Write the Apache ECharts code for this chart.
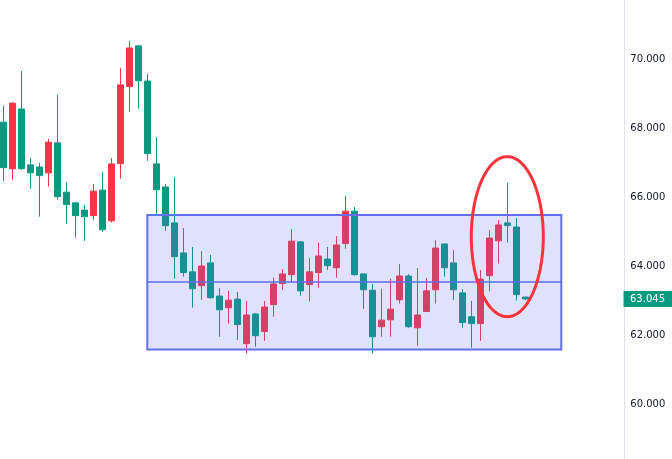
<!DOCTYPE html>
<html>
<head>
<meta charset="utf-8">
<style>
  html, body { margin: 0; padding: 0; background: #ffffff; }
  #chart { width: 672px; height: 459px; }
</style>
<script src="https://cdn.jsdelivr.net/npm/echarts@6.0.0/dist/echarts.min.js"></script>
</head>
<body>
<div id="chart"></div>
<script>
// ---- data ----
const opens  = [68.17,66.82,68.55,66.93,66.87,66.70,67.57,66.14,65.83,65.62,
                65.46,66.20,65.31,66.97,69.20,70.38,69.36,66.96,66.29,65.25,
                64.38,63.83,63.43,64.09,63.13,62.79,63.04,61.75,62.61,62.10,
                62.88,63.49,63.75,64.70,63.46,63.81,64.20,63.95,64.65,65.59,
                63.77,63.30,62.24,62.44,63.02,63.71,62.21,62.68,63.31,64.64,
                64.09,63.22,62.53,62.33,63.72,64.73,65.25,65.13,63.10];
const closes = [66.85,68.72,66.82,66.70,66.62,67.59,66.01,65.78,65.46,65.43,
                66.17,65.05,66.96,69.25,70.32,69.37,67.26,66.21,65.17,64.27,
                63.81,63.34,64.00,63.08,62.73,63.01,62.30,62.58,61.98,62.81,
                63.48,63.77,64.72,63.28,63.83,64.29,64.01,64.61,65.59,63.75,
                63.31,61.95,62.43,62.75,63.71,62.24,62.58,63.28,64.52,63.95,
                63.31,62.36,62.33,63.62,64.81,65.19,65.17,63.17,63.045];
const lows   = [66.46,66.50,66.79,66.24,65.43,66.30,65.92,65.23,64.82,64.73,
                65.34,64.99,65.26,66.53,68.47,68.56,67.05,65.51,65.02,63.63,
                63.69,62.79,63.02,63.05,61.95,62.33,61.86,61.46,61.66,61.83,
                62.53,63.31,63.53,63.14,62.97,63.37,63.89,63.66,64.50,63.72,
                62.76,61.46,61.95,61.95,62.91,62.21,61.69,62.68,62.91,63.69,
                63.02,62.21,61.63,61.83,63.26,64.07,64.68,63.00,63.01];
const highs  = [68.64,68.75,69.65,67.13,66.99,67.68,68.96,66.43,65.85,65.77,
                66.38,66.72,67.13,69.74,70.52,70.41,69.57,67.74,66.38,66.58,
                65.10,64.55,64.43,64.32,63.36,63.28,63.25,62.99,62.64,62.99,
                63.66,63.91,65.07,64.72,64.23,64.67,64.55,64.87,66.03,65.71,
                63.77,63.48,63.34,63.63,64.06,63.77,63.94,63.65,64.75,64.64,
                64.46,63.33,62.99,63.88,65.04,65.33,66.41,65.39,63.10];
const lastPrice = 63.045;
// 59 sessions plus empty space to the right of the last candle
const categories = Array.from({length: 70}, (_, i) => 'D' + (i + 1));
const yTicks = { min: 58, max: 72, interval: 2 };
// annotation: range box [startIdx, top, endIdx, bottom], mid level
const rangeBox = [16, 65.48, 62, 61.58];
const rangeMid = 63.536;
// annotation: ellipse [leftIdx, top, rightIdx, bottom]
const ellipseBox = [51.99, 67.17, 60.44, 62.53];

const ohlc = opens.map((o, i) => [o, closes[i], lows[i], highs[i]]);

const chart = echarts.init(document.getElementById('chart'), null, {renderer: 'canvas'});
chart.setOption({
  animation: false,
  backgroundColor: '#ffffff',
  grid: { left: 3.3, right: 47.7, top: -10, bottom: -14, outerBoundsMode: 'none', containLabel: false },
  xAxis: {
    type: 'category', data: categories, boundaryGap: false, show: false
  },
  yAxis: {
    type: 'value', position: 'right', min: yTicks.min, max: yTicks.max, interval: yTicks.interval,
    splitLine: { show: false },
    axisTick: { show: false },
    axisLine: { show: true, lineStyle: { color: '#E0E3EB', width: 1 } },
    axisLabel: {
      color: '#131722', fontFamily: 'DejaVu Sans', fontSize: 10, margin: 6,
      formatter: v => v.toFixed(3)
    }
  },
  series: [
    {
      type: 'candlestick', data: ohlc, barWidth: 6, clip: false, z: 2,
      itemStyle: { color: '#F23645', color0: '#089981', borderColor: '#F23645', borderColor0: '#089981', borderWidth: 1 }
    },
    {
      type: 'custom', z: 5, silent: true, clip: false,
      encode: { x: [0, 2], y: [1, 3] },
      data: [rangeBox.concat([rangeMid])],
      renderItem: function (params, api) {
        const p0 = api.coord([api.value(0), api.value(1)]);
        const p1 = api.coord([api.value(2), api.value(3)]);
        const pm0 = api.coord([api.value(0), api.value(4)]);
        const pm1 = api.coord([api.value(2), api.value(4)]);
        return {
          type: 'group',
          children: [
            { type: 'rect', shape: { x: p0[0], y: p0[1], width: p1[0] - p0[0], height: p1[1] - p0[1] },
              style: { fill: 'rgba(98,112,235,0.2)', stroke: '#6270EB', lineWidth: 2 } },
            { type: 'line', shape: { x1: pm0[0], y1: pm0[1], x2: pm1[0], y2: pm1[1] },
              style: { stroke: '#5E6DEB', lineWidth: 1.3 } }
          ]
        };
      }
    },
    {
      type: 'custom', z: 6, silent: true, clip: false,
      encode: { x: [0, 2], y: [1, 3] },
      data: [ellipseBox],
      renderItem: function (params, api) {
        const a = api.coord([api.value(0), api.value(1)]);
        const b = api.coord([api.value(2), api.value(3)]);
        const cx = (a[0] + b[0]) / 2, cy = (a[1] + b[1]) / 2;
        const rx = Math.abs(b[0] - a[0]) / 2, ry = Math.abs(b[1] - a[1]) / 2;
        const pts = [];
        for (let k = 0; k < 120; k++) {
          const t = k / 120 * Math.PI * 2;
          pts.push([cx + rx * Math.cos(t), cy + ry * Math.sin(t)]);
        }
        return { type: 'polygon', shape: { points: pts },
                 style: { fill: 'none', stroke: '#F7343C', lineWidth: 3 } };
      }
    },
    {
      type: 'custom', z: 7, silent: true, clip: false,
      encode: { x: 0, y: 1 },
      data: [[categories.length - 1, lastPrice]],
      renderItem: function (params, api) {
        const p = api.coord([api.value(0), api.value(1)]);
        const x0 = Math.round(p[0]) - 0.5;
        return {
          type: 'group',
          children: [
            { type: 'rect', shape: { x: x0, y: p[1] - 8, width: 672 - x0, height: 16 },
              style: { fill: '#089981' } },
            { type: 'text', x: x0 + 6.5, y: p[1] + 0.5,
              style: { text: lastPrice.toFixed(3), fill: '#ffffff', font: '10px "DejaVu Sans"',
                       textAlign: 'left', textVerticalAlign: 'middle' } }
          ]
        };
      }
    }
  ]
});
</script>
</body>
</html>
